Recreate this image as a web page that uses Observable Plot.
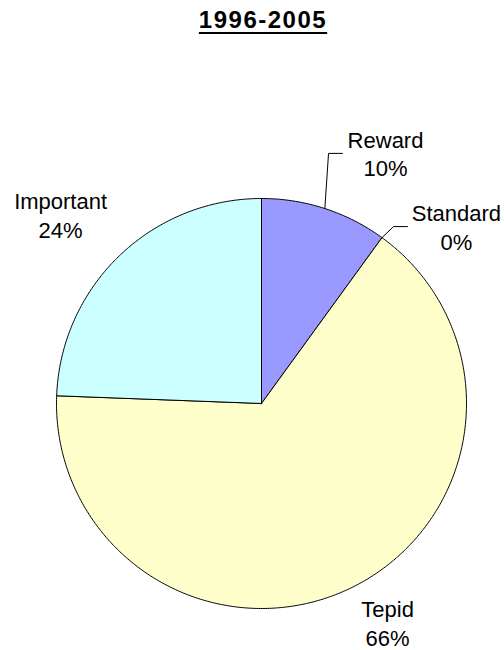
<!DOCTYPE html>
<html>
<head>
<meta charset="utf-8">
<script src="https://cdn.jsdelivr.net/npm/d3@7"></script>
<script src="https://cdn.jsdelivr.net/npm/@observablehq/plot@0.6"></script>
<style>
  html, body { margin: 0; padding: 0; background: #fff; }
  #wrap { position: relative; width: 504px; height: 650px; overflow: hidden; }
  #title { position: absolute; left: 0; top: 0; width: 526px; height: 44px; text-align: center;
    font: bold 24px "Liberation Sans", Arial, sans-serif; line-height: 26px; padding-top: 7px;
    box-sizing: border-box; text-decoration: underline; text-underline-offset: 4px; color: #000; letter-spacing: 1.5px; }
  #chart { position: absolute; left: 0; top: 44px; }
</style>
</head>
<body>
<div id="wrap">
  <div id="title">1996-2005</div>
  <div id="chart"></div>
</div>
<script>
// ---- data ----
const categories = ["Reward", "Standard", "Tepid", "Important"];
const values = [10, 0, 65.6, 24.4];
const colors = ["#9999ff", "#993366", "#ffffcc", "#ccffff"];
const titleText = "1996-2005";

// ---- layout (unit circle coords, y up) ----
const labelPos = {
  Reward: [0.605, 1.222],
  Standard: [0.951, 0.863],
  Tepid: [0.615, -1.068],
  Important: [-0.980, 0.922]
};
const leaderElbows = {
  Reward: [[0.327, 1.220], [0.395, 1.220]],
  Standard: [[0.644, 0.863], [0.712, 0.863]]
};

document.getElementById("title").textContent = titleText;

const table = categories.map((name, i) => ({name, value: values[i], color: colors[i]}));
const total = d3.sum(values);
const arcs = d3.pie().sort(null).value(d => d.value)(table);

// slice outlines
const slicePts = [];
for (const a of arcs) {
  if (a.endAngle - a.startAngle <= 0) continue;
  const n = Math.max(2, Math.ceil((a.endAngle - a.startAngle) / (Math.PI / 360)));
  slicePts.push({name: a.data.name, x: 0, y: 0});
  for (let k = 0; k <= n; k++) {
    const t = a.startAngle + (a.endAngle - a.startAngle) * k / n;
    slicePts.push({name: a.data.name, x: Math.sin(t), y: Math.cos(t)});
  }
  slicePts.push({name: a.data.name, x: 0, y: 0});
}

// leader lines
const leaderPts = [];
for (const a of arcs) {
  const el = leaderElbows[a.data.name];
  if (!el) continue;
  const m = (a.startAngle + a.endAngle) / 2;
  leaderPts.push({name: a.data.name, x: Math.sin(m), y: Math.cos(m)});
  for (const [x, y] of el) leaderPts.push({name: a.data.name, x, y});
}

const labels = table.map(d => ({
  name: d.name,
  text: `${d.name}\n${Math.round(d.value / total * 100)}%`,
  x: labelPos[d.name][0],
  y: labelPos[d.name][1]
}));

const cx = 261, cy = 359, r = 205;
const chart = Plot.plot({
  width: 504,
  height: 606,
  margin: 0,
  x: {domain: [-1, 1], range: [cx - r, cx + r], axis: null},
  y: {domain: [-1, 1], range: [cy + r, cy - r], axis: null},
  color: {domain: categories, range: colors},
  style: {fontFamily: "'Liberation Sans', Arial, sans-serif", background: "#fff"},
  marks: [
    Plot.line(slicePts, {x: "x", y: "y", z: "name", fill: "name", stroke: "#000", strokeWidth: 1, curve: "linear-closed", strokeLinejoin: "round"}),
    Plot.line(leaderPts, {x: "x", y: "y", z: "name", stroke: "#000", strokeWidth: 1}),
    Plot.text(labels, {x: "x", y: "y", text: "text", fontSize: 22, lineHeight: 1.3, fill: "#000", textAnchor: "middle", lineAnchor: "middle"})
  ]
});
document.getElementById("chart").appendChild(chart);
</script>
</body>
</html>
